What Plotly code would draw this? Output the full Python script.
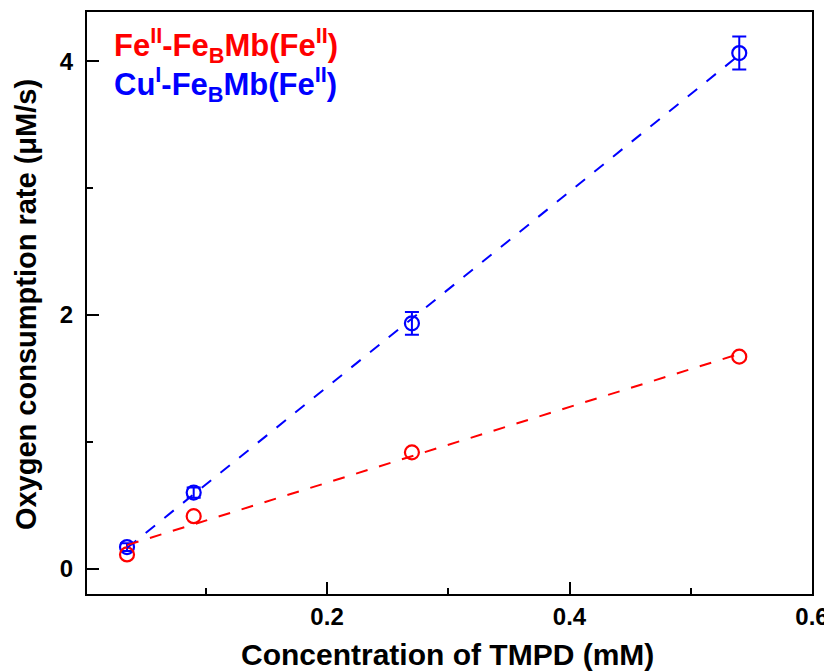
import numpy as np
import plotly.graph_objects as go

# Data
tmpd_mM = [0.035, 0.09, 0.27, 0.54]
fe_rate = [0.112, 0.414, 0.917, 1.672]
cu_rate = [0.17, 0.60, 1.935, 4.066]
cu_err = [0.03, 0.04, 0.09, 0.13]

red = "#ff0000"
blue = "#0000ff"
font_family = "Liberation Sans, Arial, sans-serif"

fig = go.Figure()

fig.add_trace(go.Scatter(
    x=tmpd_mM, y=cu_rate, mode="markers",
    marker=dict(symbol="circle-open", size=14, color=blue, line=dict(width=2.2, color=blue)),
    error_y=dict(type="data", array=cu_err, visible=True, color=blue, thickness=2, width=7),
    showlegend=False,
))
fig.add_trace(go.Scatter(
    x=tmpd_mM, y=fe_rate, mode="markers",
    marker=dict(symbol="circle-open", size=14, color=red, line=dict(width=2.2, color=red)),
    showlegend=False,
))

# linear fits of each series
xs = np.array([tmpd_mM[0], tmpd_mM[-1]])
for yvals, col in ((cu_rate, blue), (fe_rate, red)):
    k, b = np.polyfit(tmpd_mM, yvals, 1)
    fig.add_trace(go.Scatter(
        x=xs, y=k * xs + b, mode="lines",
        line=dict(color=col, width=2, dash="12px,12px"),
        showlegend=False,
    ))

axis_common = dict(
    showline=True, linecolor="black", linewidth=2, mirror=True,
    ticks="inside", ticklen=12, tickwidth=2, tickcolor="black",
    showgrid=False, zeroline=False, automargin=False,
    tickfont=dict(family=font_family, size=24, color="black", weight="bold"),
)

fig.update_xaxes(
    range=[0.002, 0.6], dtick=0.2, tick0=0,
    minor=dict(dtick=0.1, ticks="inside", ticklen=6, tickwidth=2, tickcolor="black", showgrid=False),
    **axis_common,
)
fig.update_yaxes(
    range=[-0.2, 4.39], dtick=2, tick0=0, ticklabelstandoff=7,
    minor=dict(dtick=1, ticks="inside", ticklen=6, tickwidth=2, tickcolor="black", showgrid=False),
    **axis_common,
)

# axis titles
fig.add_annotation(
    x=0.497, y=-0.104, xref="paper", yref="paper", xanchor="center", yanchor="middle",
    text="<b>Concentration of TMPD (mM)</b>", showarrow=False,
    font=dict(family=font_family, size=30, color="black"),
)
fig.add_annotation(
    x=-0.084, y=0.4966, xref="paper", yref="paper", xanchor="center", yanchor="middle",
    text="<b>Oxygen consumption rate (μM/s)</b>", showarrow=False, textangle=-90,
    font=dict(family=font_family, size=29, color="black"),
)

fig.add_annotation(
    x=0.034, y=0.9416, xref="paper", yref="paper", xanchor="left", yanchor="middle",
    text="<b>Fe<sup>II</sup>-Fe<sub>B</sub>Mb(Fe<sup>II</sup>)</b>", showarrow=False,
    font=dict(family=font_family, size=31, color=red),
)
fig.add_annotation(
    x=0.034, y=0.876, xref="paper", yref="paper", xanchor="left", yanchor="middle",
    text="<b>Cu<sup>I</sup>-Fe<sub>B</sub>Mb(Fe<sup>II</sup>)</b>", showarrow=False,
    font=dict(family=font_family, size=31, color=blue),
)

# page body has an 8px margin, so the figure is sized/offset to match the window
fig.update_layout(
    width=824, height=664,
    margin=dict(l=79, r=20, t=4, b=78),
    paper_bgcolor="white", plot_bgcolor="white",
    font=dict(family=font_family, color="black"),
)

fig.write_html("out.html")
